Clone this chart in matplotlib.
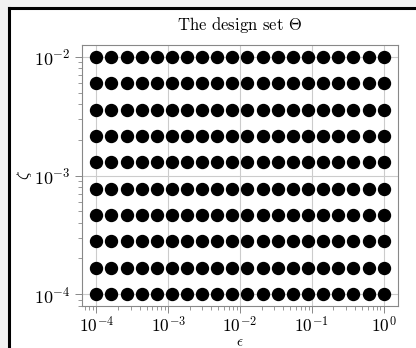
import matplotlib
matplotlib.use("Agg")
import matplotlib.pyplot as plt
from matplotlib.patches import Rectangle
from matplotlib.lines import Line2D
from matplotlib.ticker import LogLocator, NullFormatter

plt.rcParams["font.family"] = "serif"
plt.rcParams["font.serif"] = ["cmr10"]
plt.rcParams["mathtext.fontset"] = "cm"
plt.rcParams["axes.formatter.use_mathtext"] = True

# Design grid values
epsilon = [1.0e-4, 1.62e-4, 2.64e-4, 4.28e-4, 6.95e-4, 1.13e-3, 1.83e-3,
           2.98e-3, 4.83e-3, 7.85e-3, 1.27e-2, 2.07e-2, 3.36e-2, 5.46e-2,
           8.86e-2, 1.44e-1, 2.34e-1, 3.79e-1, 6.16e-1, 1.0]
zeta = [1.0e-4, 1.67e-4, 2.78e-4, 4.64e-4, 7.74e-4, 1.29e-3, 2.15e-3,
        3.59e-3, 5.99e-3, 1.0e-2]

W, H = 416, 348
dpi = 100
fig = plt.figure(figsize=(W / dpi, H / dpi), dpi=dpi)
fig.patch.set_facecolor("white")

# light grey margin strips and the black frame lines
fig.patches.append(Rectangle((0, 0), 8 / W, 1, transform=fig.transFigure,
                             facecolor="#f2f2f2", edgecolor="none", zorder=-5))
fig.patches.append(Rectangle((0, 1 - 7 / H), 1, 7 / H, transform=fig.transFigure,
                             facecolor="#f2f2f2", edgecolor="none", zorder=-5))
fig.lines.append(Line2D([9 / W, 9 / W], [0, 1 - 8 / H], transform=fig.transFigure,
                        color="black", linewidth=2.2, solid_capstyle="projecting"))
fig.lines.append(Line2D([9 / W, 1], [1 - 8 / H, 1 - 8 / H], transform=fig.transFigure,
                        color="black", linewidth=2.2, solid_capstyle="projecting"))

ax = fig.add_axes([82 / W, 1 - 306 / H, (398 - 82) / W, (306 - 45) / H])
ax.set_zorder(2)
ax.patch.set_facecolor("white")
ax.set_xscale("log")
ax.set_yscale("log")

xs = [e for z in zeta for e in epsilon]
ys = [z for z in zeta for e in epsilon]
ax.plot(xs, ys, "o", color="black", markersize=8.6, linestyle="none", zorder=3)

ax.set_xlim(10 ** -4.2, 10 ** 0.2)
ax.set_ylim(10 ** -4.1, 10 ** -1.9)

ax.xaxis.set_major_locator(LogLocator(base=10, numticks=10))
ax.yaxis.set_major_locator(LogLocator(base=10, numticks=10))
ax.xaxis.set_minor_locator(LogLocator(base=10, subs=range(2, 10), numticks=20))
ax.yaxis.set_minor_locator(LogLocator(base=10, subs=range(2, 10), numticks=20))
ax.xaxis.set_minor_formatter(NullFormatter())
ax.yaxis.set_minor_formatter(NullFormatter())

ax.grid(True, which="major", color="#cccccc", linewidth=0.8, zorder=0)
ax.set_axisbelow(True)
for s in ax.spines.values():
    s.set_color("#888888")
    s.set_linewidth(0.8)
ax.tick_params(which="major", direction="out", length=5, width=0.7,
               color="#888888", labelsize=13, pad=3)
ax.tick_params(axis="x", which="major", labelsize=12.5, pad=1.5)
ax.tick_params(which="minor", direction="out", length=3, width=0.6,
               color="#888888")

ax.set_title(r"The design set $\Theta$", fontsize=12, pad=11)
ax.set_xlabel(r"$\epsilon$", fontsize=11, labelpad=0)
ax.set_ylabel(r"$\zeta$", fontsize=12, labelpad=0)

fig.savefig("out.png", dpi=dpi, facecolor=fig.get_facecolor())
